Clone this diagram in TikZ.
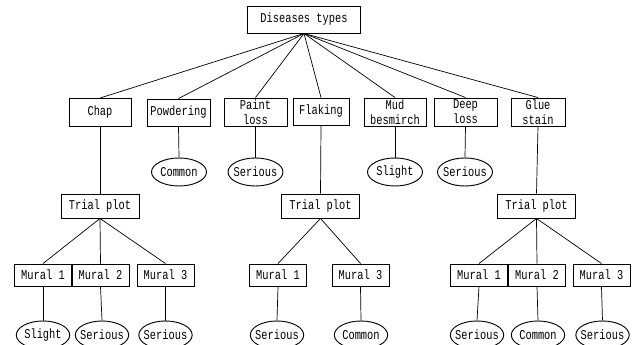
\documentclass[tikz,border=0pt]{standalone}
\usepackage{fontspec}
\setmonofont[FakeStretch=0.77]{Liberation Mono}
\usetikzlibrary{shapes.geometric}
\tikzset{
  dbox/.style={draw, line width=0.8pt, inner xsep=1pt, inner ysep=0pt, align=center, minimum width=1.86cm, minimum height=0.84cm},
  mbox/.style={draw, line width=0.8pt, inner sep=1pt, minimum width=1.71cm, minimum height=0.66cm},
  tbox/.style={draw, line width=0.8pt, inner sep=1pt, minimum width=2.34cm, minimum height=0.72cm},
  grade/.style={draw, ellipse, line width=0.8pt, inner xsep=-3pt, inner ysep=0pt, minimum width=1.65cm, minimum height=0.84cm}
}
\begin{document}
\begin{tikzpicture}[x=0.03cm, y=-0.03cm, font=\ttfamily\fontsize{11.5}{12.6}\selectfont, line width=0.6pt]
      \useasboundingbox (0,0) rectangle (635,345);
      \node [dbox, minimum width=3.39cm, minimum height=0.81cm] (root) at (304,19.5) {Diseases types};
      \node [dbox] (chap) at (100,112.5) {Chap};
      \node [dbox, minimum width=1.89cm, minimum height=0.81cm] (powd) at (178.5,112.5) {Powdering};
      \node [dbox, minimum width=1.89cm] (paint) at (255.5,112) {Paint\\loss};
      \node [dbox, minimum width=1.68cm, minimum height=0.81cm] (flak) at (321,111.5) {Flaking};
      \node [dbox] (mud) at (395,112) {Mud\\besmirch};
      \node [dbox, minimum width=1.89cm] (deep) at (465.5,112) {Deep\\loss};
      \node [dbox, minimum width=1.62cm] (glue) at (538,112) {Glue\\stain};
      \draw (root.south)--(chap.north);
      \draw (root.south)--(powd.north);
      \draw (root.south)--(paint.north);
      \draw (root.south)--(flak.north);
      \draw (root.south)--(mud.north);
      \draw (root.south)--(deep.north);
      \draw (root.south)--(glue.north);
      \node [grade] (powdg) at (179,172) {Common};
      \node [grade] (paintg) at (255.5,172) {Serious};
      \node [grade] (mudg) at (395,172) {Slight};
      \node [grade] (deepg) at (465,172) {Serious};
      \draw (powd.south)--(powdg.north);
      \draw (paint.south)--(paintg.north);
      \draw (mud.south)--(mudg.north);
      \draw (deep.south)--(deepg.north);
      \node [tbox] (chapt) at (100,206) {Trial plot};
      \node [tbox] (flakt) at (320.5,206) {Trial plot};
      \node [tbox] (gluet) at (536.5,206) {Trial plot};
      \draw (chap.south)--(chapt.north);
      \draw (flak.south)--(flakt.north);
      \draw (glue.south)--(gluet.north);
      \node [mbox] (chapa) at (43,275) {Mural 1};
      \node [mbox] (chapb) at (100.5,275) {Mural 2};
      \node [mbox] (chapc) at (165.5,275) {Mural 3};
      \node [mbox] (flaka) at (278,275) {Mural 1};
      \node [mbox] (flakc) at (360.5,275) {Mural 3};
      \node [mbox] (gluea) at (479,275) {Mural 1};
      \node [mbox] (glueb) at (537,275) {Mural 2};
      \node [mbox] (gluec) at (601.5,275) {Mural 3};
      \draw (chapt.south)--(chapa.north);
      \draw (chapt.south)--(chapb.north);
      \draw (chapt.south)--(chapc.north);
      \draw (flakt.south)--(flaka.north);
      \draw (flakt.south)--(flakc.north);
      \draw (gluet.south)--(gluea.north);
      \draw (gluet.south)--(glueb.north);
      \draw (gluet.south)--(gluec.north);
      \node [grade, minimum width=1.6cm] (chapag) at (43,335) {Slight};
      \node [grade, minimum width=1.6cm] (chapbg) at (102,335) {Serious};
      \node [grade, minimum width=1.6cm] (chapcg) at (165.5,335) {Serious};
      \node [grade, minimum width=1.6cm] (flakag) at (277,335) {Serious};
      \node [grade, minimum width=1.6cm] (flakcg) at (361,335) {Common};
      \node [grade, minimum width=1.6cm] (gluesag) at (477,335) {Serious};
      \node [grade, minimum width=1.6cm] (gluebg) at (538,335) {Common};
      \node [grade, minimum width=1.6cm] (gluecg) at (602.5,335) {Serious};
      \draw (chapa.south)--(chapag.north);
      \draw (chapb.south)--(chapbg.north);
      \draw (chapc.south)--(chapcg.north);
      \draw (flaka.south)--(flakag.north);
      \draw (flakc.south)--(flakcg.north);
      \draw (gluea.south)--(gluesag.north);
      \draw (glueb.south)--(gluebg.north);
      \draw (gluec.south)--(gluecg.north);
    \end{tikzpicture}
\end{document}
